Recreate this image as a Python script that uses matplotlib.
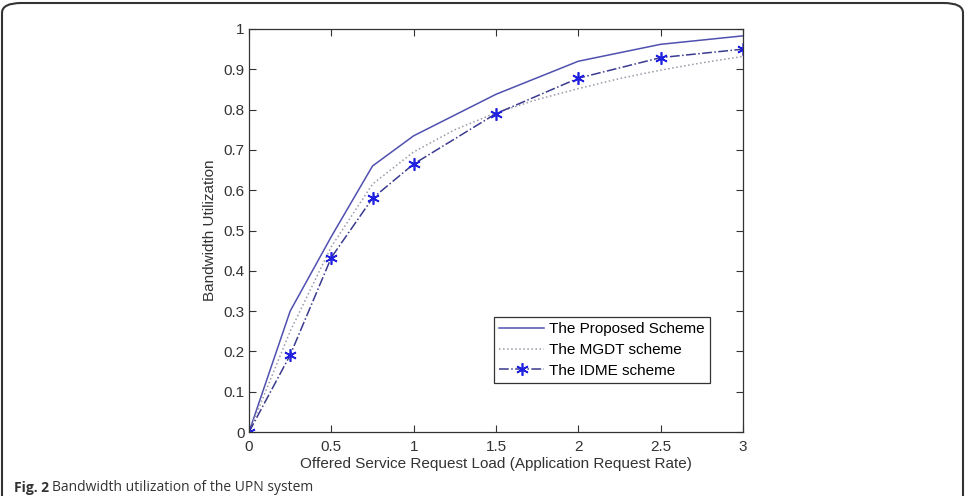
import numpy as np
import matplotlib.pyplot as plt
from matplotlib.patches import FancyBboxPatch

# offered load (application request rate)
load = [0, 0.25, 0.5, 0.75, 1, 1.5, 2, 2.5, 3]

proposed = [0, 0.30, 0.485, 0.66, 0.735, 0.838, 0.92, 0.962, 0.983]
mgdt_load = [0, 0.25, 0.5, 0.75, 1, 1.25, 1.5, 1.75, 2, 2.25, 2.5, 2.75, 3]
mgdt = [0, 0.25, 0.46, 0.615, 0.695, 0.75, 0.792, 0.825, 0.852, 0.877, 0.898, 0.916, 0.932]
idme = [0, 0.191, 0.433, 0.58, 0.665, 0.79, 0.878, 0.929, 0.95]

plt.rcParams['font.family'] = ['Liberation Sans', 'DejaVu Sans']

fig = plt.figure(figsize=(9.69, 4.96), dpi=100)
ax = fig.add_axes([249 / 969, 1 - 432 / 496, 494 / 969, 403 / 496])

ax.plot(load, proposed, '-', color='#5050b0', lw=1.1, label='The Proposed Scheme')
ax.plot(mgdt_load, mgdt, ':', color='#9a9aa8', lw=1.1, label='The MGDT scheme')
ax.plot(load, idme, '-.', color='#3a3a90', lw=1.1, marker=(6, 2, 0), markersize=9,
        markeredgewidth=1.2, markerfacecolor='#2020e0', markeredgecolor='#2020e0',
        label='The IDME scheme')

ax.set_xlim(0, 3)
ax.set_ylim(0, 1)
ax.set_xticks([0, 0.5, 1, 1.5, 2, 2.5, 3])
ax.set_xticklabels(['0', '0.5', '1', '1.5', '2', '2.5', '3'])
ax.set_yticks(np.arange(0, 1.01, 0.1))
ax.set_yticklabels(['0', '0.1', '0.2', '0.3', '0.4', '0.5', '0.6', '0.7', '0.8', '0.9', '1'])
ax.tick_params(direction='in', length=5, labelsize=11, colors='#333333',
               top=True, right=True, pad=3)
ax.tick_params(axis='x', pad=6)
for s in ax.spines.values():
    s.set_color('#333333')
    s.set_linewidth(0.9)

ax.set_xlabel('Offered Service Request Load (Application Request Rate)', fontsize=11,
              color='#333333', labelpad=2)
ax.set_ylabel('Bandwidth Utilization', fontsize=11, color='#333333', labelpad=5)

leg = ax.legend(loc='upper left', bbox_to_anchor=(0.496, 0.286),
                fontsize=11, fancybox=False, edgecolor='#333333', framealpha=1,
                handlelength=2.95, handletextpad=0.33, borderpad=0.35, labelspacing=0.45,
                borderaxespad=0)
leg.get_frame().set_linewidth(0.9)

# outer frame of the figure panel
frame = FancyBboxPatch((2 / 969, -0.05), 961 / 969, 0.05 + 1 - 3 / 496,
                       boxstyle='round,pad=0,rounding_size=0.02',
                       transform=fig.transFigure, fill=False, edgecolor='#333333', lw=1.5)
fig.patches.append(frame)

fig.text(14 / 969, 1 / 496, 'Fig. 2', fontsize=10, fontweight='bold', color='#333333',
         family=['Open Sans', 'DejaVu Sans'], va='bottom')
fig.text(52 / 969, 1 / 496, 'Bandwidth utilization of the UPN system', fontsize=10,
         color='#333333', family=['Open Sans', 'DejaVu Sans'], va='bottom')

fig.savefig('out.png', dpi=100)
